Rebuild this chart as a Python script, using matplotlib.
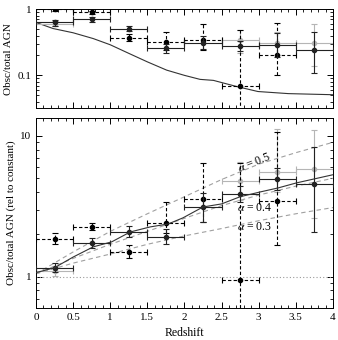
import numpy as np
import matplotlib
matplotlib.use('Agg')
import matplotlib.pyplot as plt
from matplotlib.ticker import MultipleLocator, FixedLocator, FixedFormatter, NullFormatter

plt.rcParams['font.family'] = ['Liberation Serif', 'DejaVu Serif']
plt.rcParams['mathtext.fontset'] = 'stix'
plt.rcParams['font.size'] = 8

# bin centres (redshift)
z_bins = [0.25, 0.75, 1.25, 1.75, 2.25, 2.75, 3.25, 3.75]
half_width = 0.25

# top panel: obscured / total AGN
top_solid = [0.63, 0.70, 0.51, 0.26, 0.31, 0.275, 0.29, 0.24]
top_solid_lo = [0.56, 0.64, 0.47, 0.22, 0.25, 0.23, 0.19, 0.11]
top_solid_hi = [0.68, 0.77, 0.56, 0.30, 0.40, 0.33, 0.43, 0.45]

top_dash_z = [0.25, 0.75, 1.25, 1.75, 2.25, 2.75, 3.25]
top_dash = [1.0, 0.9, 0.37, 0.32, 0.34, 0.068, 0.20]
top_dash_lo = [0.95, 0.85, 0.33, 0.24, 0.24, 0.02, 0.10]
top_dash_hi = [1.05, 0.95, 0.42, 0.45, 0.59, 0.48, 0.61]

top_gray_z = [0.25, 2.75, 3.25, 3.75]
top_gray = [0.60, 0.34, 0.31, 0.31]
top_gray_lo = [0.55, 0.22, 0.20, 0.14]
top_gray_hi = [0.66, 0.48, 0.45, 0.59]

top_model_z = [0.0, 0.23, 0.5, 0.77, 1.0, 1.27, 1.5, 1.76, 2.0, 2.21, 2.39, 2.7, 2.99, 3.4, 4.0]
top_model = [0.63, 0.51, 0.44, 0.36, 0.29, 0.21, 0.16, 0.12, 0.10, 0.087, 0.084, 0.068, 0.057, 0.053, 0.051]

# bottom panel: relative to constant fraction
bot_solid = [1.16, 1.74, 2.08, 1.92, 3.14, 3.88, 4.95, 4.56]
bot_solid_lo = [1.08, 1.60, 1.92, 1.70, 2.45, 3.40, 4.10, 2.08]
bot_solid_hi = [1.25, 1.90, 2.30, 2.20, 3.94, 4.40, 5.90, 8.30]

bot_dash_z = [0.25, 0.75, 1.25, 1.75, 2.25, 2.75, 3.25]
bot_dash = [1.86, 2.26, 1.50, 2.42, 3.57, 0.95, 3.46]
bot_dash_lo = [1.70, 2.15, 1.35, 2.05, 2.45, 0.50, 1.69]
bot_dash_hi = [2.05, 2.40, 1.68, 3.40, 6.40, 6.40, 10.6]

bot_gray_z = [0.25, 2.75, 3.25, 3.75]
bot_gray = [1.10, 4.80, 5.55, 5.80]
bot_gray_lo = [1.02, 3.50, 4.00, 2.60]
bot_gray_hi = [1.20, 6.50, 11.2, 11.0]

bot_model_z = [0.0, 0.25, 0.5, 0.77, 1.02, 1.27, 1.54, 1.78, 1.98, 2.25, 2.5, 2.75, 3.02, 3.26, 3.51, 4.0]
bot_model = [1.07, 1.16, 1.38, 1.63, 1.77, 2.08, 2.26, 2.37, 2.62, 3.13, 3.29, 3.70, 4.00, 4.27, 4.64, 5.30]

alpha_z = [0.0, 0.5, 1.0, 1.5, 2.0, 2.5, 3.0, 3.5, 4.0]
alpha_05 = [1.05, 1.50, 2.10, 2.80, 3.70, 4.90, 6.30, 7.60, 9.00]
alpha_04 = [1.05, 1.35, 1.70, 2.10, 2.60, 3.20, 3.80, 4.40, 5.00]
alpha_03 = [1.05, 1.25, 1.45, 1.70, 1.95, 2.20, 2.50, 2.80, 3.10]


def draw(ax, z, y, lo, hi, color, dashed, zorder):
    y = np.array(y)
    yerr = [y - np.array(lo), np.array(hi) - y]
    eb = ax.errorbar(z, y, xerr=half_width, yerr=yerr, fmt='o', color=color,
                     ms=3, lw=0.8, capsize=2, capthick=0.8, zorder=zorder)
    if dashed:
        for bc in eb[2]:
            bc.set_linestyle((0, (3, 2)))


def style(ax):
    ax.set_xlim(0, 4)
    ax.xaxis.set_major_locator(MultipleLocator(0.5))
    ax.xaxis.set_minor_locator(MultipleLocator(0.1))
    ax.tick_params(which='both', direction='in', top=True, right=True, labelsize=8)
    ax.tick_params(which='major', length=4, width=0.7)
    ax.tick_params(which='minor', length=2, width=0.6)
    for s in ax.spines.values():
        s.set_linewidth(0.7)


fig = plt.figure(figsize=(3.38, 3.40), dpi=100)
ax1 = fig.add_axes([0.1065, 0.682, 0.8785, 0.291])
ax2 = fig.add_axes([0.1065, 0.094, 0.8785, 0.559])

# top
ax1.set_yscale('log')
ax1.plot(top_model_z, top_model, color='#333333', lw=0.8)
draw(ax1, top_gray_z, top_gray, top_gray_lo, top_gray_hi, '#b5b5b5', False, 2)
draw(ax1, top_dash_z, top_dash, top_dash_lo, top_dash_hi, 'black', True, 3)
draw(ax1, z_bins, top_solid, top_solid_lo, top_solid_hi, '#222222', False, 4)
ax1.set_ylim(0.032, 1.0)
style(ax1)
ax1.yaxis.set_major_locator(FixedLocator([0.1, 1]))
ax1.yaxis.set_major_formatter(FixedFormatter(['0.1', '1']))
ax1.yaxis.set_minor_formatter(NullFormatter())
ax1.set_xticklabels([])
ax1.set_ylabel('Obsc/total AGN', fontsize=8, labelpad=3)

# bottom
ax2.set_yscale('log')
ax2.axhline(1.0, color='#999999', lw=0.8, ls=(0, (1, 2)))
ax2.plot(alpha_z, alpha_05, color='#a0a0a0', lw=0.8, ls=(0, (4, 3)))
ax2.plot(alpha_z, alpha_04, color='#a0a0a0', lw=0.8, ls=(0, (4, 3)))
ax2.plot(alpha_z, alpha_03, color='#a0a0a0', lw=0.8, ls=(0, (4, 3)))
ax2.plot(bot_model_z, bot_model, color='#333333', lw=0.8, zorder=5)
draw(ax2, bot_gray_z, bot_gray, bot_gray_lo, bot_gray_hi, '#b5b5b5', False, 2)
draw(ax2, bot_dash_z, bot_dash, bot_dash_lo, bot_dash_hi, 'black', True, 3)
draw(ax2, z_bins, bot_solid, bot_solid_lo, bot_solid_hi, '#222222', False, 4)
ax2.set_ylim(0.60, 13.4)
style(ax2)
ax2.yaxis.set_major_locator(FixedLocator([1, 10]))
ax2.yaxis.set_major_formatter(FixedFormatter(['1', '10']))
ax2.yaxis.set_minor_formatter(NullFormatter())
ax2.set_xticks([0, 0.5, 1, 1.5, 2, 2.5, 3, 3.5, 4])
ax2.set_xticklabels(['0', '0.5', '1', '1.5', '2', '2.5', '3', '3.5', '4'])
ax2.set_xlabel('Redshift', fontsize=8.5)
ax2.set_ylabel('Obsc/total AGN (rel to constant)', fontsize=8, labelpad=3)

ax2.text(2.95, 6.4, r'$\alpha$ = 0.5', fontsize=8.5, rotation=22, ha='center', va='center')
ax2.text(2.95, 3.1, r'$\alpha$ = 0.4', fontsize=8.5, ha='center', va='center')
ax2.text(2.95, 2.25, r'$\alpha$ = 0.3', fontsize=8.5, ha='center', va='center')

fig.savefig('out.png', dpi=100)
